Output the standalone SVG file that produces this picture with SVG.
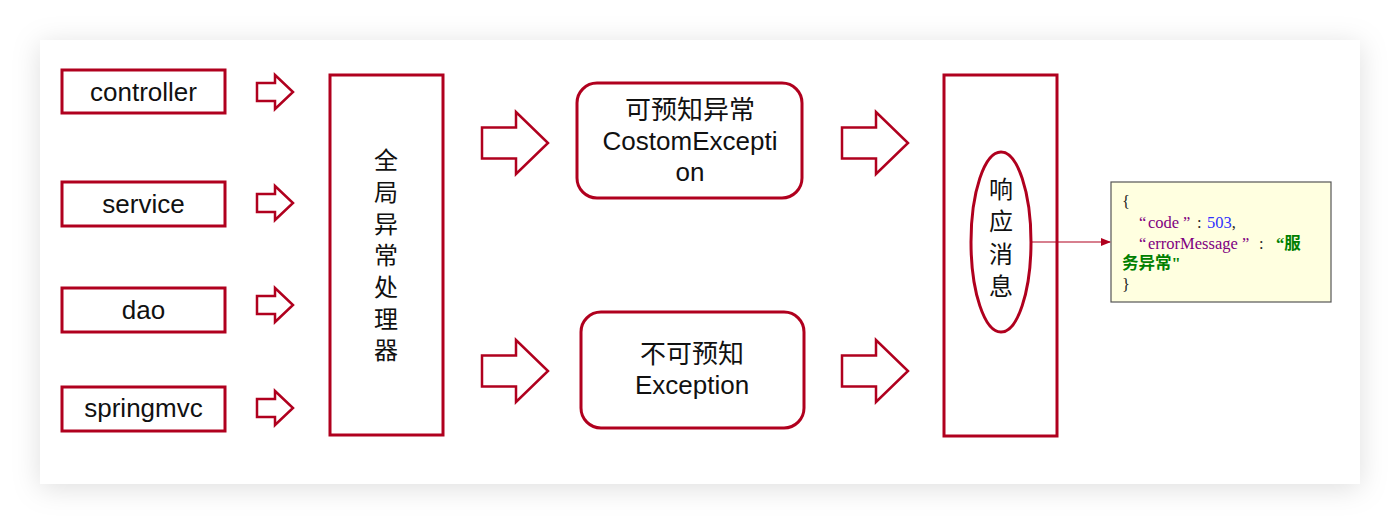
<svg xmlns="http://www.w3.org/2000/svg" xmlns:xlink="http://www.w3.org/1999/xlink" width="1400" height="524" viewBox="0 0 1400 524">
<defs>
<style>
.box{fill:#fff;stroke:#b0001e;stroke-width:3}
.arr{fill:#fff;stroke:#b0001e;stroke-width:2.5;stroke-linejoin:miter}
.lbl{font-family:"Liberation Sans","Noto Sans CJK SC",sans-serif;font-size:26px;fill:#111;text-anchor:middle}
.vt{font-family:"Noto Sans CJK SC","Liberation Sans",sans-serif;font-size:24px;fill:#111;text-anchor:middle}
.vm{writing-mode:vertical-rl;letter-spacing:7.7px}
.js{font-family:"Liberation Serif","Noto Sans CJK SC",serif;font-size:16.5px}
.k{fill:#800080}
.n{fill:#2f2fff}
.v{fill:#008000;font-weight:bold}
.p{fill:#222}
</style>
<filter id="sh" x="-10%" y="-20%" width="120%" height="140%">
<feDropShadow dx="0" dy="4" stdDeviation="14" flood-color="#000" flood-opacity="0.13"/>
</filter>
<path id="sa" d="M0,-9 H18 V-17 L36,0 L18,17 V9 H0 Z"/>
<path id="ba" d="M0,-15.5 H34 V-31 L66,0 L34,31 V15.5 H0 Z"/>
<marker id="ah" markerWidth="10" markerHeight="8" refX="9" refY="4" orient="auto" markerUnits="userSpaceOnUse">
<path d="M0,0 L10,4 L0,8 Z" fill="#b0001e"/>
</marker>
</defs>
<rect x="0" y="0" width="1400" height="524" fill="#fff"/>
<rect x="40" y="40" width="1320" height="444" fill="#fff" filter="url(#sh)"/>

<g id="controller"><rect class="box" x="62" y="70" width="163" height="43"/><text class="lbl" x="143.5" y="101">controller</text></g>
<g id="service"><rect class="box" x="62" y="182" width="163" height="44"/><text class="lbl" x="143.5" y="213">service</text></g>
<g id="dao"><rect class="box" x="62" y="288" width="163" height="44"/><text class="lbl" x="143.5" y="319">dao</text></g>
<g id="springmvc"><rect class="box" x="62" y="387" width="163" height="44"/><text class="lbl" x="143.5" y="417">springmvc</text></g>

<g id="handler"><rect class="box" x="330" y="75" width="113" height="360"/>
<text class="vt vm" x="386" y="259">全局异常处理器</text></g>

<g id="custom"><rect class="box" x="577" y="83" width="225" height="115" rx="20" ry="20"/>
<text class="lbl"><tspan x="690" y="119">可预知异常</tspan><tspan x="690" y="150">CostomExcepti</tspan><tspan x="690" y="181">on</tspan></text></g>

<g id="unknown"><rect class="box" x="581" y="312" width="223" height="116" rx="20" ry="20"/>
<text class="lbl"><tspan x="692" y="363">不可预知</tspan><tspan x="692" y="394">Exception</tspan></text></g>

<g id="response"><rect class="box" x="944" y="75" width="113" height="361"/>
<ellipse class="box" cx="1001" cy="242" rx="30" ry="90"/>
<text class="vt"><tspan x="1001" y="198">响</tspan><tspan x="1001" y="230">应</tspan><tspan x="1001" y="263">消</tspan><tspan x="1001" y="295">息</tspan></text></g>

<g id="json"><rect x="1111" y="182" width="220" height="120" fill="#ffffe0" stroke="#555" stroke-width="1.2"/>
<text class="js p" x="1122" y="207">{</text>
<text class="js"><tspan class="k" x="1139" y="228">“</tspan><tspan class="k" x="1148" y="228">code</tspan><tspan class="k" x="1183" y="228">”</tspan><tspan class="p" x="1197" y="228">:</tspan><tspan class="n" x="1207" y="228">503</tspan><tspan class="p">,</tspan></text>
<text class="js"><tspan class="k" x="1139" y="249">“</tspan><tspan class="k" x="1148" y="249">errorMessage</tspan><tspan class="k" x="1242" y="249">”</tspan><tspan class="p" x="1259" y="249">:</tspan><tspan class="v" x="1276" y="249">“服</tspan></text>
<text class="js v" x="1122" y="269">务异常"</text>
<text class="js p" x="1122" y="290">}</text>
</g>

<g id="connectors">
<use xlink:href="#sa" class="arr" x="257" y="92"/>
<use xlink:href="#sa" class="arr" x="257" y="203"/>
<use xlink:href="#sa" class="arr" x="257" y="305"/>
<use xlink:href="#sa" class="arr" x="257" y="408"/>
<use xlink:href="#ba" class="arr" x="482" y="143"/>
<use xlink:href="#ba" class="arr" x="482" y="371"/>
<use xlink:href="#ba" class="arr" x="842" y="143"/>
<use xlink:href="#ba" class="arr" x="842" y="371"/>
<line x1="1031" y1="242" x2="1110" y2="242" stroke="#b0001e" stroke-width="1.2" marker-end="url(#ah)"/>
</g>
</svg>
